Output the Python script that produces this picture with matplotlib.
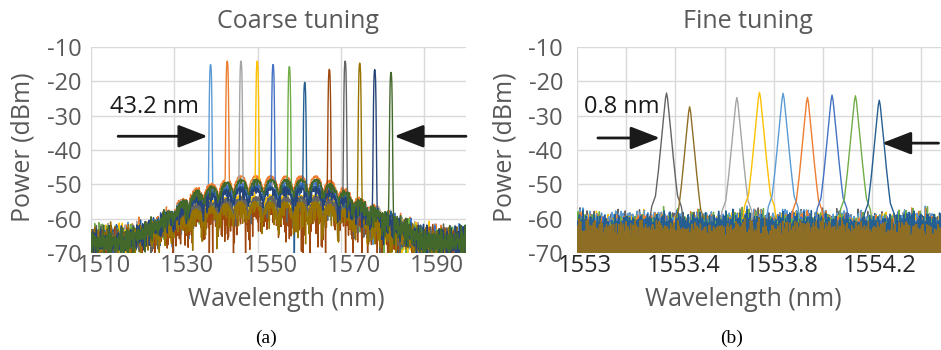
import numpy as np
import matplotlib
matplotlib.use('Agg')
import matplotlib.pyplot as plt
from matplotlib.ticker import MultipleLocator
from matplotlib.transforms import ScaledTranslation

plt.rcParams['font.family'] = ['Open Sans', 'DejaVu Sans']
plt.rcParams['axes.unicode_minus'] = False

GRAY_TXT = '#595959'
GRID = '#d9d9d9'

# ---- coarse tuning: one laser line per trace ----
coarse_colors = ['#5B9BD5', '#ED7D31', '#A5A5A5', '#FFC000', '#4472C4', '#70AD47',
                 '#255E91', '#9E480E', '#636363', '#997300', '#264478', '#43682B']
coarse_center_nm = [1538.7, 1542.7, 1546.0, 1549.9, 1553.7, 1557.6,
                    1561.3, 1567.2, 1571.0, 1574.5, 1578.1, 1582.0]
coarse_peak_dbm = [-15.1, -14.1, -14.1, -14.1, -15.1, -15.7,
                   -20.3, -16.5, -14.1, -14.7, -16.6, -17.4]
# top of the ASE hump of each trace (dBm) and how deep its noise reaches there (dB)
coarse_hump_dbm = [-54, -47.5, -49, -53, -49.5, -54, -50.5, -56, -53.5, -55, -51, -48.5]
coarse_noise_db = [4, 2, 2, 4, 2.5, 4, 3, 12, 5, 8, 3, 2]
# deep single dips seen on some traces: (trace, wavelength, level)
coarse_dips = [(6, 1558.8, -74), (7, 1566.3, -74), (8, 1579.4, -74),
               (5, 1580.3, -74), (9, 1565.4, -66)]

# hump envelope: wavelength and weight between the edge floor and the hump top
hump_nm = [1510, 1518, 1525, 1530, 1535, 1540, 1545, 1565, 1570, 1575, 1580, 1585, 1590, 1600]
hump_w = [0, 0, 0.22, 0.45, 0.75, 0.88, 1, 1, 0.8, 0.55, 0.38, 0.2, 0, 0]
edge_floor_dbm = -60.5
edge_noise_db = 13

# one period of the Fabry-Perot ripple (0.2 nm steps)
ripple_db = [0, -0.1, -0.3, -0.6, -1.0, -1.6, -2.4, -3.4, -4.4,
             -3.4, -2.4, -1.6, -1.0, -0.6, -0.3, -0.1, 0, 0]

# laser line shape around the peak, coarse view (0.1 nm steps)
coarse_line_db = [-42, -34, -22, -10, -3, -0.5, 0, -0.5, -3, -10, -22, -34, -42]

# ---- fine tuning ----
fine_colors = ['#636363', '#8E6D25', '#A5A5A5', '#FFC000', '#5B9BD5', '#ED7D31',
               '#4472C4', '#70AD47', '#255E91']
fine_center_nm = [1553.364, 1553.458, 1553.650, 1553.742, 1553.838,
                  1553.937, 1554.037, 1554.132, 1554.229]
fine_peak_dbm = [-23.4, -27.4, -24.7, -23.2, -23.5, -24.7, -24.0, -24.2, -25.5]
fine_floor_dbm = [-55.5, -57.5, -55.5, -55.5, -55.5, -55.5, -55.5, -55.5, -55.5]
fine_noise_db = 21
fine_line_offset_nm = [-0.075, -0.06, -0.045, -0.035, -0.025, -0.016, -0.009, -0.004, 0,
                       0.004, 0.009, 0.016, 0.025, 0.035, 0.045, 0.06, 0.075]
fine_line_rel_db = [-40, -33, -30, -24, -17, -10, -5, -1.5, 0,
                    -1.5, -5, -10, -17, -24, -30, -33, -40]
fine_draw_order = [0, 2, 3, 4, 5, 6, 7, 8, 1]

# texture tables for the OSA noise floor (read off as rough 0..1 levels)
noise_a = [0.12, 0.85, 0.33, 0.61, 0.05, 0.94, 0.27, 0.48, 0.71, 0.18, 0.99, 0.40,
           0.08, 0.66, 0.23, 0.89, 0.52, 0.14, 0.77, 0.36, 0.02, 0.58, 0.91]
noise_b = [0.44, 0.07, 0.81, 0.29, 0.63, 0.96, 0.15, 0.54, 0.38, 0.87, 0.21, 0.69,
           0.03, 0.75, 0.47, 0.11, 0.92, 0.31, 0.59, 0.83, 0.25, 0.67, 0.09, 0.50,
           0.97, 0.35, 0.72, 0.17, 0.62]
noise_c = [0.73, 0.26, 0.90, 0.04, 0.57, 0.39, 0.84, 0.13, 0.68, 0.46, 0.98, 0.22,
           0.60, 0.01, 0.79, 0.34, 0.93, 0.19, 0.55, 0.42, 0.86, 0.10, 0.65, 0.30,
           0.95, 0.06, 0.49, 0.78, 0.24, 0.88, 0.37]


def texture(n, k):
    a = np.resize(np.roll(noise_a, 3 * k), n)
    b = np.resize(np.roll(noise_b, 5 * k + 1), n)
    c = np.resize(np.roll(noise_c, 7 * k + 2), n)
    return (a + b + c) / 3, a * b * c


def coarse_trace(i, wl):
    w = np.interp(wl, hump_nm, hump_w)
    floor = edge_floor_dbm + (coarse_hump_dbm[i] - edge_floor_dbm) * w
    rip = np.resize(np.roll(np.repeat(ripple_db, 2), i % 3), wl.size)
    t_mean, t_spiky = texture(wl.size, i)
    amp = edge_noise_db * (1 - w) + coarse_noise_db[i] * w
    tex = (1 - w) * t_mean + w * t_spiky * 1.6
    y = floor + rip * w - amp * tex
    j0 = int(round((coarse_center_nm[i] - wl[0]) / 0.1)) - len(coarse_line_db) // 2
    line = coarse_peak_dbm[i] + np.array(coarse_line_db)
    y[j0:j0 + len(line)] = np.maximum(y[j0:j0 + len(line)], line)
    for k, d_nm, d_db in coarse_dips:
        if k == i:
            j = int(round((d_nm - wl[0]) / 0.1))
            y[j] = d_db
    return y


def fine_floor(i, wl):
    t_mean, _ = texture(wl.size, i + 4)
    saw = np.resize(np.roll(noise_b, 3 * i), wl.size)
    return fine_floor_dbm[i] - fine_noise_db * (0.35 * t_mean + 0.65 * saw)


def fine_line(i, wl):
    y = np.interp(wl, np.array(fine_line_offset_nm) + fine_center_nm[i], fine_line_rel_db,
                  left=-80, right=-80) + fine_peak_dbm[i]
    return np.where(y > -60, y, np.nan)


def style_axes(ax, label_shift_px, xcolor):
    for s in ax.spines.values():
        s.set_visible(False)
    ax.grid(True, which='both', color=GRID, lw=1.0)
    ax.set_axisbelow(True)
    ax.tick_params(which='both', length=0, labelsize=17, labelcolor=GRAY_TXT)
    ax.tick_params(axis='x', pad=1, labelcolor=xcolor)
    ax.set_ylim(-70, -10)
    ax.set_yticks(np.arange(-70, -9, 10))
    off = ScaledTranslation(label_shift_px / 100, 0, ax.figure.dpi_scale_trans)
    for lab in ax.get_xticklabels():
        lab.set_transform(lab.get_transform() + off)


fig = plt.figure(figsize=(9.41, 3.5), dpi=100)
ax1 = fig.add_axes([91 / 941, 1 - 253 / 350, 375 / 941, 206 / 350])
ax2 = fig.add_axes([577 / 941, 1 - 253 / 350, 364 / 941, 206 / 350])

# coarse panel
wl_c = np.round(np.arange(1510, 1600.05, 0.1), 2)
for i, col in enumerate(coarse_colors):
    ax1.plot(wl_c, coarse_trace(i, wl_c), color=col, lw=1.0)
ax1.set_xlim(1510, 1600)
ax1.set_xticks([1510, 1530, 1550, 1570, 1590])
style_axes(ax1, 13, GRAY_TXT)
ax1.tick_params(axis='y', pad=7)
ax1.text(1525.3, -27.6, '43.2 nm', ha='center', va='center', fontsize=17, color='#1a1a1a')
arrow = dict(arrowstyle='-|>,head_length=0.9,head_width=0.35', color='#1a1a1a', lw=2,
             mutation_scale=20, shrinkA=0, shrinkB=0)
ax1.annotate('', xy=(1538.0, -36), xytext=(1516.5, -36), arrowprops=arrow)
ax1.annotate('', xy=(1582.8, -36), xytext=(1600, -36), arrowprops=arrow,
             annotation_clip=False)

# fine panel: noise floors first, then the laser lines on top
wl_f = np.arange(1553.0, 1554.5005, 0.001)
for z, i in enumerate(fine_draw_order):
    ax2.plot(wl_f, fine_floor(i, wl_f), color=fine_colors[i], lw=1.0, zorder=2 + z)
for i in range(len(fine_colors)):
    ax2.plot(wl_f, fine_line(i, wl_f), color=fine_colors[i], lw=1.0, zorder=12)
ax2.set_xlim(1553.0, 1554.48)
ax2.xaxis.set_minor_locator(MultipleLocator(0.2))
ax2.set_xticks([1553.0, 1553.4, 1553.8, 1554.2])
ax2.set_xticklabels(['1553', '1553.4', '1553.8', '1554.2'])
style_axes(ax2, 8, '#262626')
ax2.tick_params(axis='y', pad=10)
ax2.text(1553.18, -27.6, '0.8 nm', ha='center', va='center', fontsize=17, color='#1a1a1a',
         zorder=20)
ax2.annotate('', xy=(1553.337, -36.5), xytext=(1553.085, -36.5), arrowprops=arrow, zorder=20)
ax2.annotate('', xy=(1554.24, -38), xytext=(1554.47, -38), arrowprops=arrow, zorder=20,
             annotation_clip=False)

# titles and labels
fig.text(298 / 941, 1 - 22 / 350, 'Coarse tuning', ha='center', va='center',
         fontsize=18, color=GRAY_TXT)
fig.text(748 / 941, 1 - 22 / 350, 'Fine tuning', ha='center', va='center',
         fontsize=18, color=GRAY_TXT)
fig.text(286 / 941, 1 - 300 / 350, 'Wavelength (nm)', ha='center', va='center',
         fontsize=18, color=GRAY_TXT)
fig.text(743 / 941, 1 - 300 / 350, 'Wavelength (nm)', ha='center', va='center',
         fontsize=18, color=GRAY_TXT)
fig.text(23 / 941, 1 - 147 / 350, 'Power (dBm)', ha='center', va='center', rotation=90,
         fontsize=18, color=GRAY_TXT)
fig.text(505 / 941, 1 - 147 / 350, 'Power (dBm)', ha='center', va='center', rotation=90,
         fontsize=18, color=GRAY_TXT)
fig.text(266 / 941, 1 - 338 / 350, '(a)', ha='center', va='center', fontsize=14,
         family='Liberation Serif', color='black')
fig.text(732 / 941, 1 - 338 / 350, '(b)', ha='center', va='center', fontsize=14,
         family='Liberation Serif', color='black')

fig.savefig('out.png', dpi=100)
